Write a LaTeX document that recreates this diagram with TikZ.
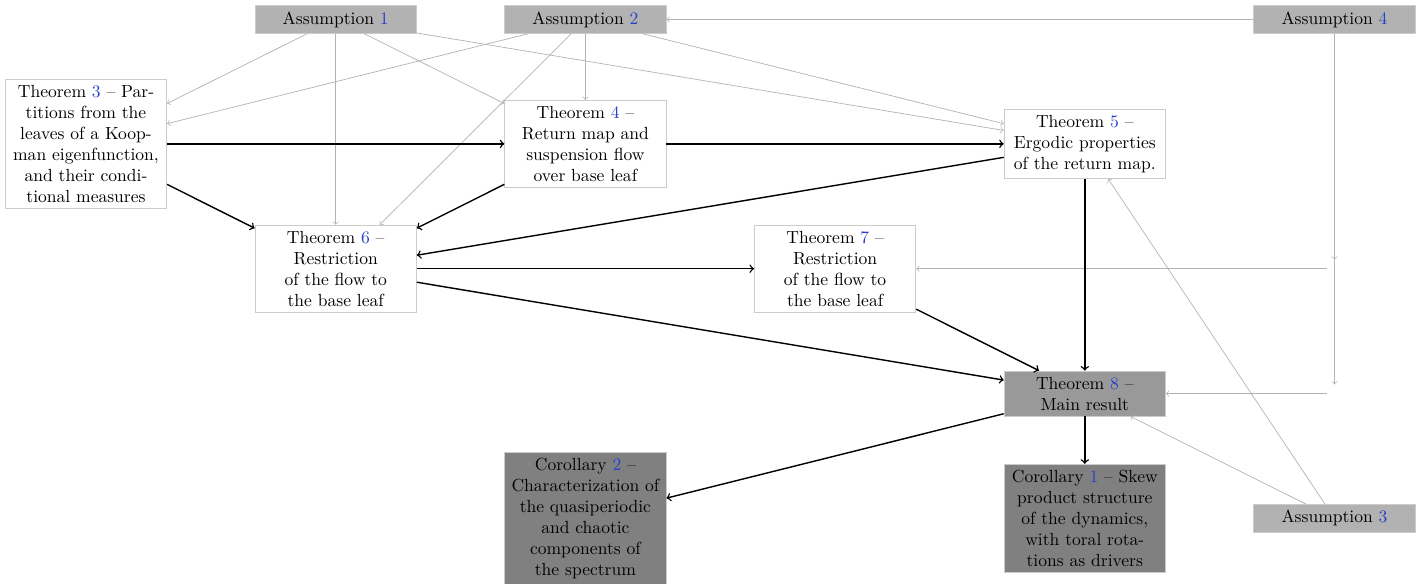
\documentclass[tikz,border=0pt]{standalone}
\definecolor{numblue}{rgb}{0.15,0.25,0.8}
\newcommand{\nb}[1]{\textcolor{numblue}{#1}}
\begin{document}
\begin{tikzpicture}[x=0.57pt,y=-0.57pt,
  box/.style={draw=black!20, text width=3cm, align=center, inner sep=0.3333em},
  thm/.style={box, fill=white},
  asm/.style={box, fill=black!30},
  mainres/.style={box, fill=black!40},
  coro/.style={box, fill=black!50},
  dep/.style={->, draw=black!30},
  flow/.style={->, thick, black},
  junction/.style={inner xsep=3.8pt, inner ysep=5pt}]
\useasboundingbox (0,0) rectangle (1424,584);
% nodes
\node[asm] (A1) at (335.7,19.5) {Assumption \nb{1}};
\node[asm] (A2) at (585.4,19.5) {Assumption \nb{2}};
\node[asm] (A4) at (1334.5,19.5) {Assumption \nb{4}};
\node[thm] (T3) at (86,143.85) {Theorem \nb{3} -- Par-\\titions from the\\leaves of a Koop-\\man eigenfunction,\\and their condi-\\tional measures};
\node[thm] (T4) at (585.4,143.85) {Theorem \nb{4} --\\Return map and\\suspension flow\\over base leaf};
\node[thm] (T5) at (1084.8,143.85) {Theorem \nb{5} --\\Ergodic properties\\of the return map.};
\node[thm] (T6) at (335.7,268.7) {Theorem \nb{6} --\\Restriction\\of the flow to\\the base leaf};
\node[thm] (T7) at (835.1,268.7) {Theorem \nb{7} --\\Restriction\\of the flow to\\the base leaf};
\node[mainres] (T8) at (1084.8,393.55) {Theorem \nb{8} --\\Main result};
\node[coro] (C1) at (1084.8,518.4) {Corollary \nb{1} -- Skew\\product structure\\of the dynamics,\\with toral rota-\\tions as drivers};
\node[coro] (C2) at (585.4,518.4) {Corollary \nb{2} --\\Characterization of\\the quasiperiodic\\and chaotic\\components of\\the spectrum};
\node[asm] (A3) at (1334.5,518.4) {Assumption \nb{3}};
\node[junction] (J7) at (1334.5,268.7) {};
\node[junction] (J8) at (1334.5,393.55) {};
% dependencies on assumptions
\draw[dep] (A1) -- (T3);
\draw[dep] (A1) -- (T6);
\draw[dep] (A1) -- (T4);
\draw[dep] (A1) -- (T5);
\draw[dep] (A2) -- (T3);
\draw[dep] (A2) -- (T6);
\draw[dep] (A2) -- (T4);
\draw[dep] (A2) -- (T5);
\draw[dep] (A4) -- (A2);
\draw[dep] (A4) -- (J7);
\draw[dep] (A4) -- (J8);
\draw[dep] (J7) -- (T7);
\draw[dep] (J8) -- (T8);
\draw[dep] (A3) -- (T8);
\draw[dep] (A3) -- (T5);
% logical flow
\draw[flow] (T3) -- (T4);
\draw[flow] (T4) -- (T5);
\draw[flow] (T3) -- (T6);
\draw[flow] (T4) -- (T6);
\draw[flow] (T5) -- (T6);
\draw[flow] (T6) -- (T7);
\draw[flow] (T6) -- (T8);
\draw[flow] (T7) -- (T8);
\draw[flow] (T5) -- (T8);
\draw[flow] (T8) -- (C1);
\draw[flow] (T8) -- (C2);
\end{tikzpicture}
\end{document}
